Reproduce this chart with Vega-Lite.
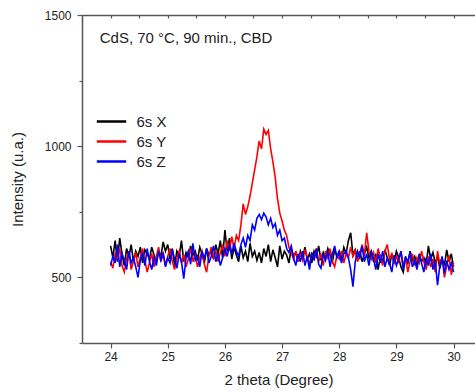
{
"$schema":"https://vega.github.io/schema/vega-lite/v6.json",
"width":393,"height":328,
"autosize":{"type":"none"},
"padding":{"left":82,"top":15,"right":0,"bottom":49},
"background":"white",
"config":{"view":{"stroke":null},"font":"Liberation Sans"},
"datasets":{"xrd":[
{"t":24.00,"X":620,"Y":560,"Z":545},{"t":24.04,"X":575,"Y":535,"Z":580},{"t":24.08,"X":640,"Y":590,"Z":555},{"t":24.12,"X":560,"Y":575,"Z":625},{"t":24.16,"X":650,"Y":610,"Z":540},
{"t":24.20,"X":590,"Y":545,"Z":590},{"t":24.24,"X":545,"Y":520,"Z":565},{"t":24.28,"X":610,"Y":570,"Z":530},{"t":24.32,"X":575,"Y":600,"Z":600},{"t":24.36,"X":625,"Y":530,"Z":555},
{"t":24.40,"X":560,"Y":560,"Z":575},{"t":24.44,"X":600,"Y":595,"Z":540},{"t":24.48,"X":580,"Y":540,"Z":500},{"t":24.52,"X":615,"Y":575,"Z":565},{"t":24.56,"X":555,"Y":610,"Z":595},
{"t":24.60,"X":605,"Y":565,"Z":545},{"t":24.64,"X":590,"Y":520,"Z":610},{"t":24.68,"X":570,"Y":555,"Z":560},{"t":24.72,"X":615,"Y":590,"Z":530},{"t":24.76,"X":585,"Y":540,"Z":580},
{"t":24.80,"X":560,"Y":580,"Z":545},{"t":24.84,"X":600,"Y":615,"Z":600},{"t":24.88,"X":580,"Y":560,"Z":565},{"t":24.92,"X":635,"Y":595,"Z":590},{"t":24.96,"X":600,"Y":545,"Z":540},
{"t":25.00,"X":625,"Y":580,"Z":575},{"t":25.04,"X":570,"Y":610,"Z":555},{"t":25.08,"X":610,"Y":560,"Z":605},{"t":25.12,"X":545,"Y":530,"Z":570},{"t":25.16,"X":600,"Y":575,"Z":535},
{"t":25.20,"X":580,"Y":600,"Z":590},{"t":25.24,"X":640,"Y":555,"Z":560},{"t":25.28,"X":560,"Y":585,"Z":495},{"t":25.32,"X":595,"Y":540,"Z":575},{"t":25.36,"X":575,"Y":570,"Z":600},
{"t":25.40,"X":620,"Y":610,"Z":550},{"t":25.44,"X":585,"Y":560,"Z":630},{"t":25.48,"X":600,"Y":590,"Z":565},{"t":25.52,"X":565,"Y":540,"Z":580},{"t":25.56,"X":615,"Y":575,"Z":540},
{"t":25.60,"X":590,"Y":600,"Z":600},{"t":25.64,"X":555,"Y":550,"Z":570},{"t":25.68,"X":610,"Y":520,"Z":610},{"t":25.72,"X":585,"Y":580,"Z":555},{"t":25.76,"X":600,"Y":615,"Z":580},
{"t":25.80,"X":570,"Y":575,"Z":620},{"t":25.84,"X":625,"Y":600,"Z":560},{"t":25.88,"X":590,"Y":560,"Z":590},{"t":25.92,"X":640,"Y":595,"Z":545},{"t":25.96,"X":575,"Y":620,"Z":575},
{"t":26.00,"X":680,"Y":580,"Z":610},{"t":26.04,"X":600,"Y":640,"Z":580},{"t":26.08,"X":650,"Y":600,"Z":625},{"t":26.12,"X":570,"Y":655,"Z":590},{"t":26.16,"X":615,"Y":610,"Z":630},
{"t":26.20,"X":585,"Y":660,"Z":600},{"t":26.24,"X":560,"Y":640,"Z":580},{"t":26.28,"X":620,"Y":700,"Z":625},{"t":26.32,"X":575,"Y":780,"Z":650},{"t":26.36,"X":600,"Y":740,"Z":615},
{"t":26.40,"X":560,"Y":770,"Z":660},{"t":26.44,"X":630,"Y":810,"Z":640},{"t":26.48,"X":580,"Y":860,"Z":700},{"t":26.52,"X":600,"Y":910,"Z":680},{"t":26.56,"X":565,"Y":960,"Z":725},
{"t":26.60,"X":595,"Y":1020,"Z":740},{"t":26.64,"X":555,"Y":990,"Z":720},{"t":26.68,"X":610,"Y":1065,"Z":745},{"t":26.72,"X":580,"Y":1045,"Z":730},{"t":26.76,"X":625,"Y":1060,"Z":700},
{"t":26.80,"X":560,"Y":990,"Z":725},{"t":26.84,"X":605,"Y":940,"Z":690},{"t":26.88,"X":575,"Y":880,"Z":705},{"t":26.92,"X":540,"Y":800,"Z":660},{"t":26.96,"X":620,"Y":745,"Z":680},
{"t":27.00,"X":570,"Y":715,"Z":640},{"t":27.04,"X":600,"Y":680,"Z":650},{"t":27.08,"X":585,"Y":660,"Z":610},{"t":27.12,"X":555,"Y":615,"Z":595},{"t":27.16,"X":610,"Y":595,"Z":620},
{"t":27.20,"X":580,"Y":570,"Z":575},{"t":27.24,"X":595,"Y":600,"Z":545},{"t":27.28,"X":560,"Y":560,"Z":590},{"t":27.32,"X":600,"Y":590,"Z":560},{"t":27.36,"X":575,"Y":565,"Z":600},
{"t":27.40,"X":615,"Y":605,"Z":545},{"t":27.44,"X":570,"Y":575,"Z":580},{"t":27.48,"X":590,"Y":550,"Z":530},{"t":27.52,"X":555,"Y":590,"Z":595},{"t":27.56,"X":600,"Y":570,"Z":565},
{"t":27.60,"X":580,"Y":610,"Z":610},{"t":27.64,"X":620,"Y":560,"Z":550},{"t":27.68,"X":565,"Y":585,"Z":535},{"t":27.72,"X":595,"Y":545,"Z":590},{"t":27.76,"X":575,"Y":600,"Z":565},
{"t":27.80,"X":610,"Y":575,"Z":600},{"t":27.84,"X":585,"Y":610,"Z":540},{"t":27.88,"X":560,"Y":560,"Z":590},{"t":27.92,"X":605,"Y":540,"Z":620},{"t":27.96,"X":580,"Y":585,"Z":575},
{"t":28.00,"X":600,"Y":570,"Z":595},{"t":28.04,"X":570,"Y":600,"Z":555},{"t":28.08,"X":615,"Y":555,"Z":590},{"t":28.12,"X":590,"Y":590,"Z":600},{"t":28.16,"X":640,"Y":575,"Z":575},
{"t":28.20,"X":670,"Y":615,"Z":530},{"t":28.24,"X":585,"Y":580,"Z":465},{"t":28.28,"X":605,"Y":600,"Z":560},{"t":28.32,"X":570,"Y":560,"Z":600},{"t":28.36,"X":600,"Y":590,"Z":575},
{"t":28.40,"X":560,"Y":625,"Z":620},{"t":28.44,"X":590,"Y":585,"Z":560},{"t":28.48,"X":615,"Y":670,"Z":590},{"t":28.52,"X":575,"Y":600,"Z":545},{"t":28.56,"X":600,"Y":570,"Z":600},
{"t":28.60,"X":560,"Y":595,"Z":570},{"t":28.64,"X":590,"Y":555,"Z":530},{"t":28.68,"X":530,"Y":610,"Z":590},{"t":28.72,"X":580,"Y":575,"Z":555},{"t":28.76,"X":560,"Y":545,"Z":600},
{"t":28.80,"X":605,"Y":600,"Z":540},{"t":28.84,"X":575,"Y":625,"Z":575},{"t":28.88,"X":545,"Y":570,"Z":555},{"t":28.92,"X":590,"Y":590,"Z":520},{"t":28.96,"X":560,"Y":550,"Z":585},
{"t":29.00,"X":600,"Y":580,"Z":545},{"t":29.04,"X":575,"Y":560,"Z":570},{"t":29.08,"X":540,"Y":600,"Z":600},{"t":29.12,"X":520,"Y":545,"Z":530},{"t":29.16,"X":580,"Y":575,"Z":575},
{"t":29.20,"X":555,"Y":520,"Z":560},{"t":29.24,"X":600,"Y":560,"Z":595},{"t":29.28,"X":565,"Y":590,"Z":540},{"t":29.32,"X":580,"Y":545,"Z":565},{"t":29.36,"X":545,"Y":575,"Z":530},
{"t":29.40,"X":590,"Y":555,"Z":585},{"t":29.44,"X":560,"Y":600,"Z":555},{"t":29.48,"X":575,"Y":560,"Z":520},{"t":29.52,"X":545,"Y":530,"Z":575},{"t":29.56,"X":620,"Y":580,"Z":545},
{"t":29.60,"X":570,"Y":540,"Z":590},{"t":29.64,"X":595,"Y":570,"Z":530},{"t":29.68,"X":555,"Y":520,"Z":560},{"t":29.72,"X":580,"Y":600,"Z":470},{"t":29.76,"X":535,"Y":550,"Z":545},
{"t":29.80,"X":570,"Y":575,"Z":580},{"t":29.84,"X":545,"Y":500,"Z":515},{"t":29.88,"X":605,"Y":545,"Z":565},{"t":29.92,"X":560,"Y":585,"Z":530},{"t":29.96,"X":590,"Y":510,"Z":555},
{"t":30.00,"X":540,"Y":555,"Z":520}
]},
"layer":[
{
"data":{"name":"xrd"},
"transform":[{"fold":["X","Y","Z"],"as":["series","intensity"]}],
"mark":{"type":"line","strokeWidth":1.6,"clip":true},
"encoding":{
"x":{"field":"t","type":"quantitative","scale":{"domain":[23.5,30.375],"nice":false,"zero":false},
"axis":{"orient":"bottom","values":[24,24.5,25,25.5,26,26.5,27,27.5,28,28.5,29,29.5,30],"format":"d","labelExpr":"datum.value % 1 === 0 ? datum.label : ''","labelOverlap":false,"labelFlush":false,
"tickSize":{"condition":{"test":"datum.value % 1 === 0","value":5},"value":3},
"grid":false,"domainColor":"#555555","domainWidth":1.5,"tickColor":"#555555","tickWidth":1.2,
"labelFontSize":12,"labelColor":"#222222","labelPadding":3,
"title":"2 theta (Degree)","titleFontSize":15,"titleFontWeight":"normal","titleColor":"#222222","titlePadding":10}},
"y":{"field":"intensity","type":"quantitative","scale":{"domain":[250,1500],"nice":false,"zero":false},
"axis":{"values":[250,500,750,1000,1250,1500],"labelExpr":"datum.value % 500 === 0 ? datum.label : ''","labelOverlap":false,"labelFlush":false,"format":"d",
"tickSize":{"condition":{"test":"datum.value % 500 === 0","value":5},"value":3},
"grid":false,"domainColor":"#555555","domainWidth":1.5,"tickColor":"#555555","tickWidth":1.2,
"labelFontSize":12,"labelColor":"#222222","labelPadding":6,
"title":"Intensity (u.a.)","titleFontSize":15,"titleFontWeight":"normal","titleColor":"#222222","titlePadding":19}},
"color":{"field":"series","type":"nominal","scale":{"domain":["X","Y","Z"],"range":["#000000","#ff0000","#0000ff"]},
"legend":{"orient":"none","legendX":17.5,"legendY":94.5,"padding":0,"title":null,"labelExpr":"'6s ' + datum.label",
"symbolType":"M-1.4,0H1.4","symbolSize":441,"symbolStrokeWidth":2.5,"labelFontSize":15,"labelColor":"#222222","labelOffset":13,"rowPadding":0}}
}
},
{
"data":{"values":[{}]},
"mark":{"type":"rule","opacity":0},
"encoding":{"x":{"datum":24,"type":"quantitative",
"axis":{"orient":"top","values":[24,24.5,25,25.5,26,26.5,27,27.5,28,28.5,29,29.5,30],"labels":false,"title":null,"grid":false,
"tickSize":-3,"domainColor":"#555555","domainWidth":1.5,"tickColor":"#555555","tickWidth":1.2}}}
},
{
"data":{"values":[{}]},
"mark":{"type":"text","text":"CdS, 70 °C, 90 min., CBD","align":"left","baseline":"middle","fontSize":15,"color":"#222222","font":"Liberation Sans"},
"encoding":{"x":{"datum":23.81,"type":"quantitative","axis":null},"y":{"datum":1412,"type":"quantitative"}}
}
],
"resolve":{"axis":{"x":"independent"}}
}
